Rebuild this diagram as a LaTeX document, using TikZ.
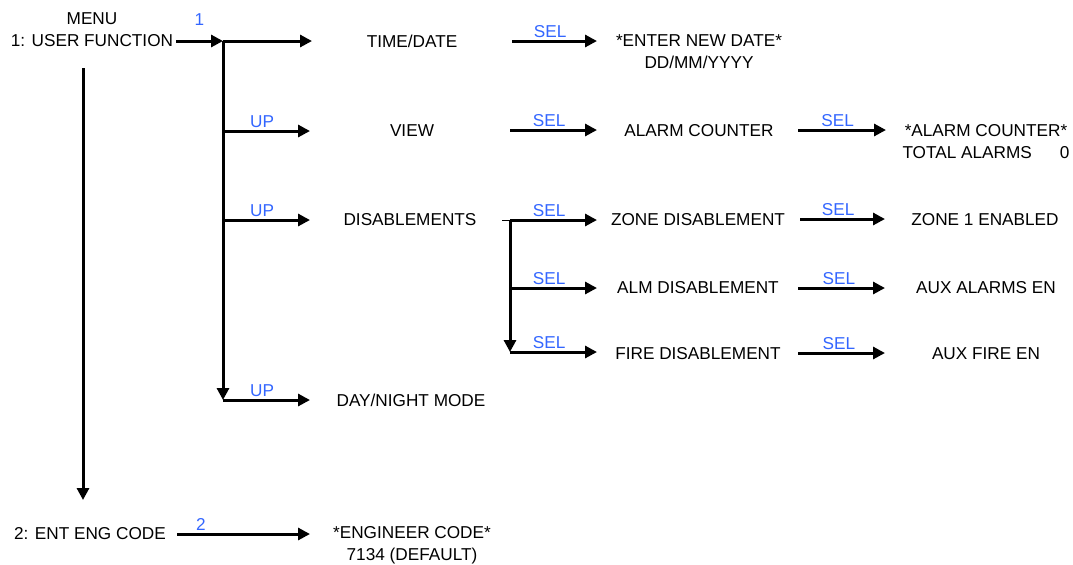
\documentclass[tikz,border=0pt]{standalone}
\usepackage{fontspec}
\setmainfont{Liberation Sans}
\usepackage{xcolor}
\usetikzlibrary{arrows.meta}
\definecolor{keyblue}{RGB}{51,102,255}
\tikzset{>={Triangle[length=6pt,width=6pt]}}
\tikzset{
  menu/.style={inner sep=0pt,align=center,font=\fontsize{8.6}{11}\selectfont},
  key/.style={above=0.9pt,inner sep=0pt,text=keyblue,font=\fontsize{8.6}{11}\selectfont},
  link/.style={->,line width=1.5pt}
}

\begin{document}
\begin{tikzpicture}[x=0.5pt,y=-0.5pt]
       \useasboundingbox (0,0) rectangle (1073,564);
       % menu texts
       \node[menu] (usr) at (92,30) {MENU\\1: USER FUNCTION};
       \node[menu] (time) at (412,41) {TIME/DATE};
       \node[menu] (view) at (412,131) {VIEW};
       \node[menu] (dis) at (410,220) {DISABLEMENTS};
       \node[menu] (day) at (411,400) {DAY/NIGHT MODE};
       \node[menu] (date) at (699,52) {*ENTER NEW DATE*\\DD/MM/YYYY};
       \node[menu] (cnt) at (699,131) {ALARM COUNTER};
       \node[menu] (zone) at (698,220) {ZONE DISABLEMENT};
       \node[menu] (alm) at (698,288) {ALM DISABLEMENT};
       \node[menu] (fire) at (698,354) {FIRE DISABLEMENT};
       \node[menu] (tot) at (986,142) {*ALARM COUNTER*\\TOTAL ALARMS\hspace{14pt}0};
       \node[menu] (zen) at (985,220) {ZONE 1 ENABLED};
       \node[menu] (aux) at (986,288) {AUX ALARMS EN};
       \node[menu] (auxf) at (986,354) {AUX FIRE EN};
       \node[menu] (eng) at (90,534) {2: ENT ENG CODE};
       \node[menu] (code) at (412,545) {*ENGINEER CODE*\\7134 (DEFAULT)};
       % junctions
       \coordinate (j1) at (223,41);
       \coordinate (j2) at (223,131);
       \coordinate (j3) at (223,220);
       \coordinate (j4) at (223,400);
       \coordinate (k1) at (510,220);
       \coordinate (k2) at (510,288);
       \coordinate (k3) at (510,352);
       % user function branch
       \draw[link] (176,41) -- node[key,midway,above=6pt]{1} (j1);
       \draw[link] (j1) -- (312,41);
       \draw[link] (j1) -- (j4);
       \draw[link] (j2) -- node[key,pos=0.45]{UP} (310,131);
       \draw[link] (j3) -- node[key,pos=0.45]{UP} (310,220);
       \draw[link] (j4) -- node[key,pos=0.45]{UP} (310,400);
       % sel arrows
       \draw[link] (512,41) -- node[key,pos=0.45]{SEL} (597,41);
       \draw[link] (510,130) -- node[key,pos=0.45]{SEL} (597,130);
       \draw[thin] (502,220) -- (k1);
       \draw[link] (k1) -- node[key,pos=0.45]{SEL} (597,220);
       \draw[link] (k1) -- (k3);
       \draw[link] (k2) -- node[key,pos=0.45]{SEL} (597,288);
       \draw[link] (k3) -- node[key,pos=0.45]{SEL} (597,352);
       \draw[link] (798,130) -- node[key,pos=0.45]{SEL} (886,130);
       \draw[link] (800,219) -- node[key,pos=0.45]{SEL} (885,219);
       \draw[link] (798,288) -- node[key,pos=0.47]{SEL} (885,288);
       \draw[link] (798,353) -- node[key,pos=0.47]{SEL} (885,353);
       % engineer code
       \draw[link] (83,68) -- (83,500);
       \draw[link] (177,534) -- node[key,pos=0.18]{2} (310,534);
      \end{tikzpicture}
\end{document}
